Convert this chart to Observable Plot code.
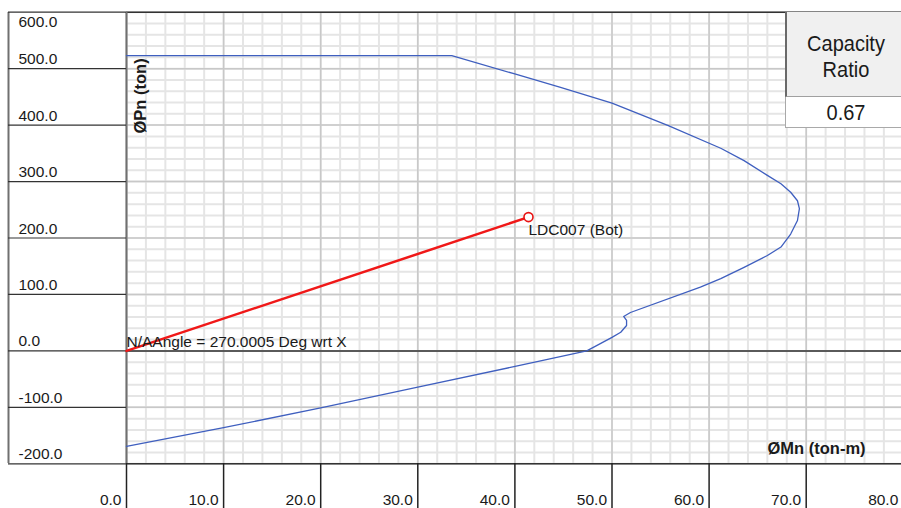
<!DOCTYPE html>
<html><head><meta charset="utf-8">
<script src="https://cdn.jsdelivr.net/npm/d3@7"></script>
<script src="https://cdn.jsdelivr.net/npm/@observablehq/plot@0.6"></script>
<style>
body{margin:0;background:#fff;}
#wrap{position:relative;width:901px;height:508px;overflow:hidden;background:#fff;}
#cap{position:absolute;left:785px;top:12px;width:122px;height:116px;font-family:"Liberation Sans",Arial,sans-serif;color:#1a1a1a;}
#cap .hdr{position:absolute;left:0;top:0;width:122px;height:85px;background:#f0f0f0;border-left:2px solid #6a6a6a;border-bottom:1px solid #a0a0a0;box-sizing:border-box;}
#cap .val{position:absolute;left:0;top:85px;width:122px;height:31px;background:#fff;border-left:1px solid #a9a9a9;border-bottom:1px solid #a9a9a9;box-sizing:border-box;}
#cap .t{position:absolute;left:0;width:122px;text-align:center;font-size:22.5px;line-height:26px;transform:scaleX(0.89);transform-origin:61px 0;white-space:nowrap;}
</style></head><body>
<div id="wrap"></div>
<script>
// ---- data ----
const xTicks = [0, 10, 20, 30, 40, 50, 60, 70, 80];
const yTicks = [-200, -100, 0, 100, 200, 300, 400, 500, 600];
const xMinor = d3.range(0, 81, 2);
const yMinor = d3.range(-200, 601, 20);

// interaction diagram (ØMn ton-m, ØPn ton)
const curveMn = [0, 33.5, 39.9, 44.7, 50.0, 55.8, 61.2, 63.6, 66.0, 67.4, 68.4, 69.1, 69.3, 69.1, 68.4, 67.4, 66.0, 63.6, 61.2, 59.1, 51.9, 51.2, 51.5, 51.5, 50.9, 50.0, 47.4, 43.6, 39.9, 30.0, 20.0, 10.0, 0];
const curvePn = [523, 523, 491, 467, 439, 399, 359, 337, 311, 296, 281, 266, 252, 231, 207, 184, 169, 148, 128, 113, 68, 61, 54, 45, 33, 24, 0, -14, -28, -64, -101, -136, -169];

// demand line
const demandMn = [0, 41.4];
const demandPn = [0, 237];
const demandLabel = "LDC007 (Bot)";
const angleLabel = "N/AAngle = 270.0005 Deg wrt X";
const xTitle = "ØMn (ton-m)";
const yTitle = "ØPn (ton)";
const capacityHeader = ["Capacity", "Ratio"];
const capacityValue = "0.67";

const curve = curveMn.map((m, i) => ({m, p: curvePn[i]}));
const demand = demandMn.map((m, i) => ({m, p: demandPn[i]}));
const point = [{m: demandMn[1], p: demandPn[1], t: demandLabel}];
const yTop = yTicks.filter(d => d === 600);
const yRest = yTicks.filter(d => d !== 600);

const chart = Plot.plot({
  width: 901, height: 508,
  marginLeft: 126, marginRight: 0, marginTop: 12, marginBottom: 45,
  x: {domain: [0, 80], range: [126, 902.8], axis: null},
  y: {domain: [-200, 600], range: [463.3, 11.7], axis: null},
  style: {fontFamily: "Liberation Sans, Arial, sans-serif", fontSize: "15.5px", background: "#fff", color: "#1a1a1a", overflow: "visible"},
  marks: [
    Plot.ruleX(xMinor, {stroke: "#e5e5e5", strokeWidth: 2}),
    Plot.ruleY(yMinor, {stroke: "#e5e5e5", strokeWidth: 2}),
    Plot.ruleX(xTicks, {stroke: "#c8c8c8", strokeWidth: 1.5}),
    Plot.ruleY(yTicks, {stroke: "#c8c8c8", strokeWidth: 1.5}),
    Plot.ruleY([-200, 0, 600], {stroke: "#333", strokeWidth: 1.5}),
    Plot.ruleX([0], {stroke: "#707070", strokeWidth: 2}),
    Plot.ruleX([0], {dx: -118, stroke: "#707070", strokeWidth: 2}),
    Plot.axisY(yTicks, {anchor: "left", tickSize: 118, tickFormat: () => "", label: null, stroke: "#333", strokeWidth: 1.2}),
    Plot.axisX(xTicks, {anchor: "bottom", tickSize: 45, tickFormat: () => "", label: null, stroke: "#222", strokeWidth: 1.5}),
    Plot.line(curve, {x: "m", y: "p", stroke: "#3f5fbf", strokeWidth: 1.3}),
    Plot.line(demand, {x: "m", y: "p", stroke: "#f01818", strokeWidth: 2.5}),
    Plot.dot(point, {x: "m", y: "p", r: 4.5, stroke: "#e81515", fill: "white", strokeWidth: 1.6}),
    Plot.text(point, {x: "m", y: "p", text: "t", textAnchor: "start", lineAnchor: "bottom", dy: 18, fill: "#1a1a1a"}),
    Plot.text([angleLabel], {x: () => 0, y: () => 0, text: d => d, textAnchor: "start", lineAnchor: "bottom", dy: -4, fill: "#1a1a1a"}),
    Plot.text(yRest, {x: () => 0, y: d => d, dx: -108, textAnchor: "start", lineAnchor: "bottom", dy: -4.5, text: d => d.toFixed(1), fill: "#1a1a1a"}),
    Plot.text(yTop, {x: () => 0, y: d => d, dx: -108, textAnchor: "start", lineAnchor: "bottom", dy: 15, text: d => d.toFixed(1), fill: "#1a1a1a"}),
    Plot.text(xTicks, {x: d => d, frameAnchor: "bottom", textAnchor: "end", lineAnchor: "bottom", dx: -5, dy: 41, text: d => d.toFixed(1), fill: "#1a1a1a"}),
    Plot.text([xTitle], {frameAnchor: "bottom-right", text: d => d, textAnchor: "start", lineAnchor: "bottom", dx: -134, dy: -10, fontWeight: "bold", fontSize: 16.5, fill: "#1a1a1a"}),
    Plot.text([yTitle], {frameAnchor: "top-left", text: d => d, rotate: -90, textAnchor: "start", lineAnchor: "bottom", dx: 19, dy: 121, fontWeight: "bold", fontSize: 16.5, fill: "#1a1a1a"})
  ]
});

const wrap = document.getElementById("wrap");
wrap.appendChild(chart);

const cap = document.createElement("div");
cap.id = "cap";
cap.innerHTML = `<div class="hdr"></div><div class="val"></div>
<div class="t" style="top:19px">${capacityHeader[0]}</div>
<div class="t" style="top:45px">${capacityHeader[1]}</div>
<div class="t" style="top:88px">${capacityValue}</div>`;
wrap.appendChild(cap);
</script>
</body></html>
